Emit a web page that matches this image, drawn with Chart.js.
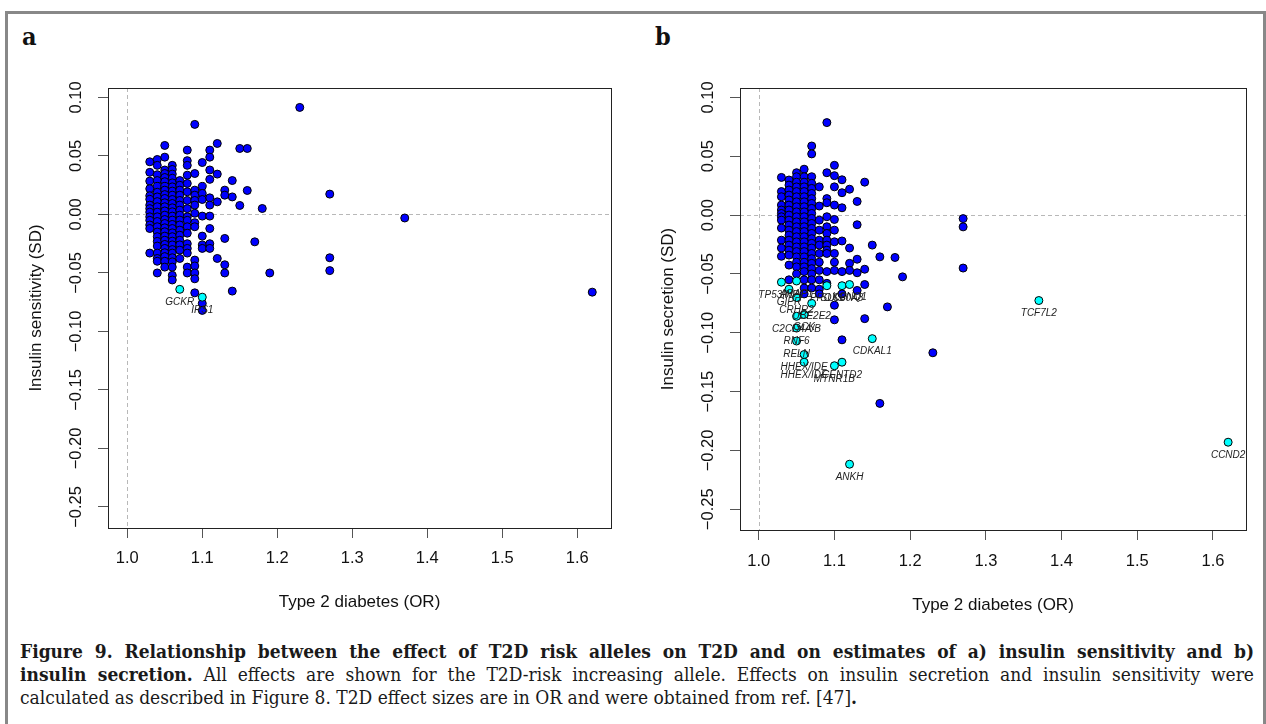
<!DOCTYPE html>
<html>
<head>
<meta charset="utf-8">
<script src="https://cdn.jsdelivr.net/npm/chart.js@4.4.1/dist/chart.umd.min.js"></script>
<style>
  body { margin: 0; width: 1266px; height: 724px; background: #fff; position: relative; overflow: hidden; }
  .frame { position: absolute; left: 5px; top: 11px; right: 0; bottom: -10px; border: 3px solid #888; box-sizing: border-box; }
  .tag { position: absolute; top: 24px; font: bold 25px/25px "DejaVu Serif Condensed", "DejaVu Serif", serif; font-stretch: condensed; color: #111; }
  .panel { position: absolute; top: 60px; }
  .caption { position: absolute; left: 20px; top: 640px; width: 1234px; color: #1a1a1a;
    font-family: "DejaVu Serif Condensed", "DejaVu Serif", serif; font-stretch: condensed; font-size: 19px; line-height: 23px; }
  .caption .j { text-align: justify; text-align-last: justify; }
</style>
</head>
<body>
<div class="frame"></div>
<div class="tag" style="left:22px">a</div>
<div class="tag" style="left:655px">b</div>
<div class="panel" style="left:10px"><canvas id="chartA" width="630" height="570"></canvas></div>
<div class="panel" style="left:640px"><canvas id="chartB" width="626" height="570"></canvas></div>
<div class="caption">
  <div class="j"><b>Figure 9. Relationship between the effect of T2D risk alleles on T2D and on estimates of a) insulin sensitivity and b)</b></div>
  <div class="j"><b>insulin secretion.</b> All effects are shown for the T2D-risk increasing allele. Effects on insulin secretion and insulin sensitivity were</div>
  <div>calculated as described in Figure 8. T2D effect sizes are in OR and were obtained from ref. [47]<b>.</b></div>
</div>
<script>
const xTicks = [1.0, 1.1, 1.2, 1.3, 1.4, 1.5, 1.6];
const yTicks = [-0.25, -0.20, -0.15, -0.10, -0.05, 0.00, 0.05, 0.10];

// panel a: T2D OR vs insulin sensitivity (SD)
const sensitivityPoints = [
  [1.03, 0.045], [1.03, 0.036], [1.03, 0.0285], [1.03, 0.022], [1.03, 0.016], [1.03, 0.013], [1.03, 0.008], [1.03, 0.005],
  [1.03, 0.002], [1.03, -0.002], [1.03, -0.005], [1.03, -0.009], [1.03, -0.012], [1.03, -0.033],
  [1.04, 0.047], [1.04, 0.042], [1.04, 0.034], [1.04, 0.029], [1.04, 0.024], [1.04, 0.019], [1.04, 0.015], [1.04, 0.011],
  [1.04, 0.0066], [1.04, 0.002], [1.04, -0.002], [1.04, -0.006], [1.04, -0.0105], [1.04, -0.015], [1.04, -0.019],
  [1.04, -0.023], [1.04, -0.027], [1.04, -0.033], [1.04, -0.0376], [1.04, -0.040], [1.04, -0.050],
  [1.05, 0.059], [1.05, 0.049], [1.05, 0.038], [1.05, 0.035], [1.05, 0.0316], [1.05, 0.028], [1.05, 0.024], [1.05, 0.0208],
  [1.05, 0.017], [1.05, 0.0137], [1.05, 0.010], [1.05, 0.0066], [1.05, 0.003], [1.05, -0.0006], [1.05, -0.0043],
  [1.05, -0.0077], [1.05, -0.0114], [1.05, -0.0148], [1.05, -0.0185], [1.05, -0.022], [1.05, -0.0256], [1.05, -0.029],
  [1.05, -0.0327], [1.05, -0.036], [1.05, -0.040], [1.05, -0.045],
  [1.06, 0.042], [1.06, 0.0385], [1.06, 0.0345], [1.06, 0.031], [1.06, 0.027], [1.06, 0.0236], [1.06, 0.020], [1.06, 0.0165],
  [1.06, 0.0128], [1.06, 0.0094], [1.06, 0.0057], [1.06, 0.0023], [1.06, -0.0014], [1.06, -0.0048], [1.06, -0.0085],
  [1.06, -0.012], [1.06, -0.0157], [1.06, -0.019], [1.06, -0.0228], [1.06, -0.026], [1.06, -0.030], [1.06, -0.033],
  [1.06, -0.037], [1.06, -0.0405], [1.06, -0.045], [1.06, -0.052], [1.06, -0.056],
  [1.07, 0.029], [1.07, 0.025], [1.07, 0.0208], [1.07, 0.0165], [1.07, 0.012], [1.07, 0.008], [1.07, 0.0037], [1.07, -0.0006],
  [1.07, -0.0048], [1.07, -0.009], [1.07, -0.0134], [1.07, -0.0177], [1.07, -0.022], [1.07, -0.026], [1.07, -0.0305], [1.07, -0.0376],
  [1.08, 0.055], [1.08, 0.046], [1.08, 0.042], [1.08, 0.0336], [1.08, 0.0265], [1.08, 0.0194], [1.08, 0.012], [1.08, 0.005],
  [1.08, -0.002], [1.08, -0.005], [1.08, -0.0105], [1.08, -0.016], [1.08, -0.025], [1.08, -0.029], [1.08, -0.033],
  [1.08, -0.045], [1.08, -0.050],
  [1.09, 0.077], [1.09, 0.035], [1.09, 0.0208], [1.09, 0.0165], [1.09, 0.012], [1.09, 0.008], [1.09, 0.001], [1.09, -0.007],
  [1.09, -0.0105], [1.09, -0.039], [1.09, -0.044], [1.09, -0.050], [1.09, -0.055], [1.09, -0.067],
  [1.10, 0.0444], [1.10, 0.024], [1.10, 0.018], [1.10, 0.0128], [1.10, -0.0014], [1.10, -0.0185], [1.10, -0.026],
  [1.10, -0.029], [1.10, -0.076], [1.10, -0.082],
  [1.11, 0.055], [1.11, 0.049], [1.11, 0.038], [1.11, 0.030], [1.11, 0.0142], [1.11, 0.008], [1.11, -0.0014], [1.11, -0.012],
  [1.11, -0.025], [1.11, -0.029],
  [1.12, 0.0607], [1.12, 0.0345], [1.12, 0.0108], [1.12, -0.0376],
  [1.13, 0.0208], [1.13, 0.0165], [1.13, -0.0205], [1.13, -0.043], [1.13, -0.050],
  [1.14, 0.029], [1.14, 0.015], [1.14, -0.0655],
  [1.15, 0.0564], [1.15, 0.0077], [1.16, 0.0564], [1.16, 0.0205], [1.17, -0.0234], [1.18, 0.0051], [1.19, -0.050],
  [1.23, 0.0915], [1.27, 0.0174], [1.27, -0.037], [1.27, -0.048], [1.37, -0.003], [1.62, -0.0664]
];
const sensitivityMarked = [[1.07, -0.064], [1.10, -0.0707]];
const sensitivityNames = ['GCKR', 'IRS1'];

// panel b: T2D OR vs insulin secretion (SD)
const secretionPoints = [
  [1.03, 0.032], [1.03, 0.020], [1.03, 0.0156], [1.03, 0.0085], [1.03, 0.0043], [1.03, 0.0014], [1.03, -0.0014],
  [1.03, -0.0043], [1.03, -0.011], [1.03, -0.0213], [1.03, -0.028], [1.03, -0.035],
  [1.04, 0.0298], [1.04, 0.0255], [1.04, 0.0213], [1.04, 0.017], [1.04, 0.0128], [1.04, 0.0085], [1.04, 0.0043], [1.04, 0.0],
  [1.04, -0.0043], [1.04, -0.0085], [1.04, -0.0128], [1.04, -0.017], [1.04, -0.0213], [1.04, -0.0255], [1.04, -0.0298],
  [1.04, -0.034], [1.04, -0.0425], [1.04, -0.055],
  [1.05, 0.036], [1.05, 0.0326], [1.05, 0.028], [1.05, 0.024], [1.05, 0.020], [1.05, 0.0156], [1.05, 0.0113], [1.05, 0.0071],
  [1.05, 0.0028], [1.05, -0.0014], [1.05, -0.0057], [1.05, -0.0099], [1.05, -0.014], [1.05, -0.0184], [1.05, -0.0227],
  [1.05, -0.027], [1.05, -0.031], [1.05, -0.0355], [1.05, -0.040], [1.05, -0.044], [1.05, -0.050],
  [1.06, 0.039], [1.06, 0.0326], [1.06, 0.028], [1.06, 0.024], [1.06, 0.020], [1.06, 0.0156], [1.06, 0.0113], [1.06, 0.0071],
  [1.06, 0.0028], [1.06, -0.0014], [1.06, -0.0057], [1.06, -0.0099], [1.06, -0.014], [1.06, -0.0184], [1.06, -0.0227],
  [1.06, -0.027], [1.06, -0.031], [1.06, -0.0355], [1.06, -0.040], [1.06, -0.044], [1.06, -0.048], [1.06, -0.055],
  [1.06, -0.062], [1.06, -0.067],
  [1.07, 0.0587], [1.07, 0.052], [1.07, 0.0326], [1.07, 0.027], [1.07, 0.0227], [1.07, 0.0184], [1.07, 0.014], [1.07, 0.0099],
  [1.07, 0.0057], [1.07, 0.0014], [1.07, -0.0028], [1.07, -0.0071], [1.07, -0.0113], [1.07, -0.0156], [1.07, -0.020],
  [1.07, -0.024], [1.07, -0.028], [1.07, -0.0326], [1.07, -0.037], [1.07, -0.041], [1.07, -0.0455], [1.07, -0.050],
  [1.07, -0.055], [1.07, -0.062],
  [1.08, 0.024], [1.08, 0.0077], [1.08, -0.0043], [1.08, -0.0128], [1.08, -0.0213], [1.08, -0.0255], [1.08, -0.0326],
  [1.08, -0.040], [1.08, -0.047], [1.08, -0.055], [1.08, -0.063], [1.08, -0.067],
  [1.09, 0.0786], [1.09, 0.036], [1.09, 0.014], [1.09, 0.0105], [1.09, -0.0014], [1.09, -0.0099], [1.09, -0.0156],
  [1.09, -0.0213], [1.09, -0.0255], [1.09, -0.0298], [1.09, -0.0326], [1.09, -0.048], [1.09, -0.058],
  [1.10, 0.0423], [1.10, 0.0335], [1.10, 0.024], [1.10, 0.0085], [1.10, -0.0037], [1.10, -0.0128], [1.10, -0.0227],
  [1.10, -0.0326], [1.10, -0.040], [1.10, -0.047], [1.10, -0.0766], [1.10, -0.089],
  [1.11, 0.030], [1.11, 0.019], [1.11, 0.0062], [1.11, -0.022], [1.11, -0.048], [1.11, -0.067], [1.11, -0.106],
  [1.12, 0.022], [1.12, -0.028], [1.12, -0.041], [1.12, -0.047],
  [1.13, 0.0116], [1.13, -0.0082], [1.13, -0.0375], [1.13, -0.049], [1.13, -0.064],
  [1.14, 0.028], [1.14, -0.046], [1.14, -0.059], [1.14, -0.088],
  [1.15, -0.0255], [1.16, -0.0355], [1.16, -0.160], [1.17, -0.078], [1.18, -0.036], [1.19, -0.0525],
  [1.23, -0.117], [1.27, -0.003], [1.27, -0.010], [1.27, -0.045]
];
const secretionMarked = [
  [1.03, -0.057], [1.05, -0.056], [1.04, -0.063], [1.09, -0.060], [1.11, -0.060], [1.12, -0.059],
  [1.05, -0.070], [1.07, -0.075], [1.06, -0.0845], [1.05, -0.086], [1.05, -0.096], [1.05, -0.107],
  [1.06, -0.1185], [1.06, -0.125], [1.10, -0.128], [1.11, -0.125], [1.15, -0.105],
  [1.37, -0.0726], [1.62, -0.193], [1.12, -0.2117]
];
const secretionNames = [
  'TP53INP1', 'ARAP1', 'GIPR', 'PROX1', 'SLC30A8', 'KCNQ1',
  'CRHR2', 'UBE2E2', 'GCK', 'C2CD4A/B', 'RNF6', 'RELN',
  'HHEX/IDE', 'HHEX/IDE', 'MTNR1B', 'CENTD2', 'CDKAL1',
  'TCF7L2', 'CCND2', 'ANKH'
];

const sans = '"Liberation Sans", Arial, sans-serif';

// R-like box, dashed reference lines and point labels
const rPlot = {
  id: 'rPlot',
  beforeDatasetsDraw(chart) {
    const {ctx, chartArea: a, scales: {x, y}} = chart;
    const px = Math.round(x.getPixelForValue(1)) + 0.5;
    const py = Math.round(y.getPixelForValue(0)) + 0.5;
    ctx.save();
    ctx.strokeStyle = '#b8b8b8';
    ctx.lineWidth = 1;
    ctx.setLineDash([4, 3]);
    ctx.beginPath();
    ctx.moveTo(px, a.top); ctx.lineTo(px, a.bottom);
    ctx.moveTo(a.left, py); ctx.lineTo(a.right, py);
    ctx.stroke();
    ctx.restore();
  },
  afterDatasetsDraw(chart) {
    const {ctx, chartArea: a} = chart;
    chart.data.datasets.forEach((ds, i) => {
      if (!ds.names) return;
      ctx.save();
      ctx.font = 'italic 10px ' + sans;
      ctx.fillStyle = '#222';
      ctx.textAlign = 'center';
      ctx.textBaseline = 'middle';
      chart.getDatasetMeta(i).data.forEach((pt, j) => ctx.fillText(ds.names[j], pt.x, pt.y + 13));
      ctx.restore();
    });
    ctx.save();
    ctx.strokeStyle = '#222';
    ctx.lineWidth = 1;
    ctx.strokeRect(Math.round(a.left) + 0.5, Math.round(a.top) + 0.5, Math.round(a.right - a.left), Math.round(a.bottom - a.top));
    ctx.restore();
  }
};

const makeChart = (id, pts, marked, names, cfg) => {
  return new Chart(document.getElementById(id), {
    type: 'scatter',
    data: {
      datasets: [
        {
          data: marked.map(p => ({x: p[0], y: p[1]})),
          names: names,
          backgroundColor: '#00ffff', borderColor: '#000', borderWidth: 1, pointRadius: 4, order: 0
        },
        {
          data: pts.map(p => ({x: p[0], y: p[1]})),
          backgroundColor: '#0000ff', borderColor: '#000', borderWidth: 1, pointRadius: 4, order: 1
        }
      ]
    },
    options: {
      responsive: false,
      animation: false,
      layout: { padding: { top: 28, right: cfg.padRight, bottom: 0, left: 0 } },
      plugins: { legend: { display: false }, tooltip: { enabled: false } },
      scales: {
        x: {
          type: 'linear', min: cfg.xMin, max: cfg.xMax,
          afterBuildTicks: s => { s.ticks = xTicks.map(v => ({value: v})); },
          afterFit: s => { s.height = cfg.xH; },
          ticks: { callback: v => v.toFixed(1), font: { family: sans, size: 16.5 }, color: '#111', padding: cfg.xPad, maxRotation: 0, autoSkip: false },
          grid: { drawOnChartArea: false, tickLength: 10, tickColor: '#555' },
          border: { display: false },
          title: { display: true, text: 'Type 2 diabetes (OR)', font: { family: sans, size: 17 }, color: '#111', padding: { top: 0, bottom: cfg.xTitlePad } }
        },
        y: {
          type: 'linear', min: cfg.yMin, max: cfg.yMax,
          afterBuildTicks: s => { s.ticks = yTicks.map(v => ({value: v})); },
          afterFit: s => { s.width = cfg.yW; },
          ticks: {
            callback: v => (v < -1e-9 ? '\u2212' : '') + Math.abs(v).toFixed(2),
            font: { family: sans, size: 16.5 }, color: '#111', padding: 1, minRotation: 90, maxRotation: 90, crossAlign: 'center', autoSkip: false
          },
          grid: { drawOnChartArea: false, tickLength: 10, tickColor: '#555' },
          border: { display: false },
          title: { display: true, text: cfg.yTitle, font: { family: sans, size: 17 }, color: '#111', padding: { top: cfg.yTitlePad, bottom: 0 } }
        }
      }
    },
    plugins: [rPlot]
  });
};

makeChart('chartA', sensitivityPoints, sensitivityMarked, sensitivityNames, {
  xMin: 0.9743, xMax: 1.645, yMin: -0.268, yMax: 0.1081,
  padRight: 29, xH: 102, yW: 98, xPad: 11, xTitlePad: 17.8, yTitlePad: 15.8,
  yTitle: 'Insulin sensitivity (SD)'
});
makeChart('chartB', secretionPoints, secretionMarked, secretionNames, {
  xMin: 0.9753, xMax: 1.6436, yMin: -0.2676, yMax: 0.108,
  padRight: 20, xH: 100, yW: 100, xPad: 12, xTitlePad: 14.8, yTitlePad: 17.8,
  yTitle: 'Insulin secretion (SD)'
});
</script>
</body>
</html>
